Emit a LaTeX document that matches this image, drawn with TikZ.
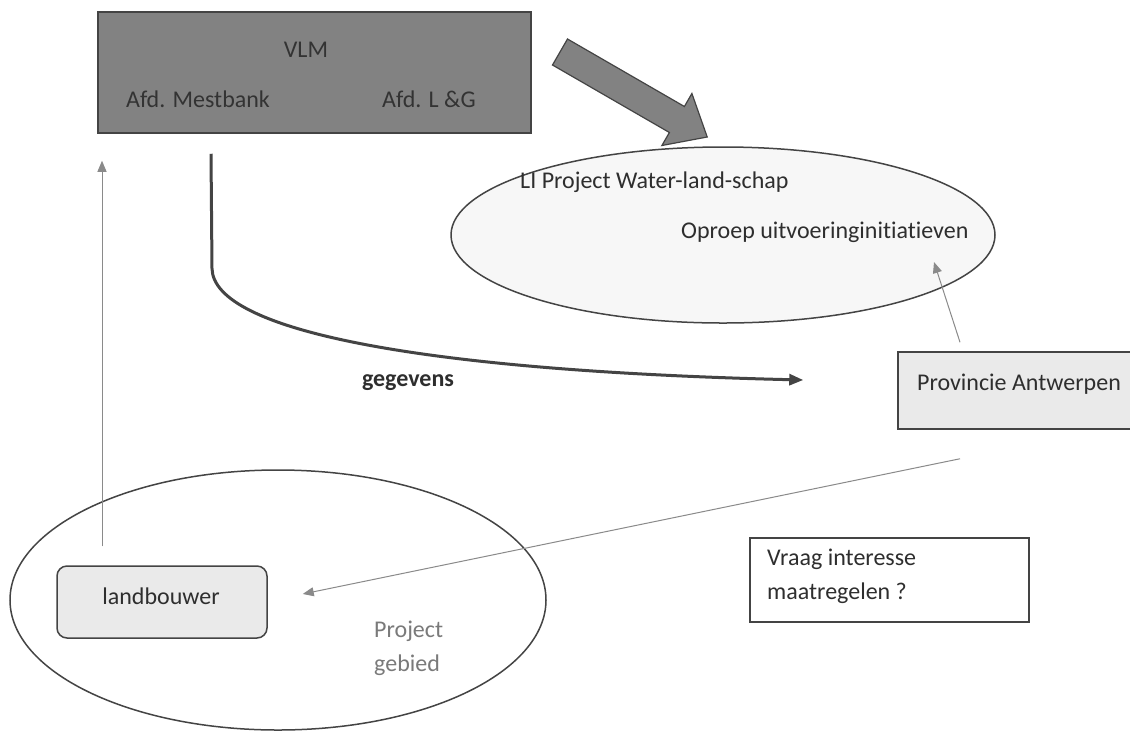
\documentclass[tikz,border=0pt]{standalone}
\usepackage{fontspec}
\setmainfont{Carlito}[Ligatures=NoCommon]
\usetikzlibrary{shapes.geometric,arrows.meta,calc}
\definecolor{vlmfill}{HTML}{828282}
\definecolor{vlmtext}{HTML}{333333}
\definecolor{linegray}{HTML}{444444}
\definecolor{thingray}{HTML}{8A8A8A}
\definecolor{lightbox}{HTML}{EAEAEA}
\definecolor{ellfill}{HTML}{F7F7F7}
\definecolor{txt}{HTML}{2E2E2E}
\definecolor{softtxt}{HTML}{7A7A7A}
\tikzset{
  base/.style={font=\fontsize{24}{29}\selectfont, text=txt},
  vlmbox/.style={draw=linegray, line width=1.5pt, fill=vlmfill, rectangle},
  vlmlabel/.style={base, text=vlmtext, inner sep=0pt},
  blockarrow/.style={draw=linegray, line width=1.2pt, fill=vlmfill, line join=miter},
  topell/.style={draw=linegray, line width=1.5pt, fill=ellfill, ellipse, inner sep=0pt},
  botell/.style={draw=linegray, line width=1.5pt, ellipse, inner sep=0pt},
  provbox/.style={draw=linegray, line width=1.5pt, fill=lightbox, rectangle},
  farmbox/.style={draw=linegray, line width=1.5pt, fill=lightbox, rectangle, rounded corners=10pt},
  askbox/.style={draw=linegray, line width=1.2pt, rectangle},
  plain/.style={base, inner sep=0pt},
  thinarrow/.style={draw=thingray, line width=1pt, -{Triangle[length=11pt,width=9pt]}},
  thickarrow/.style={draw=linegray, line width=3pt, -{Triangle[length=14pt,width=11pt]}},
}
\begin{document}
\begin{tikzpicture}[x=1pt,y=-1pt]
\useasboundingbox (0,0) rectangle (1130,732);
\fill[white] (0,0) rectangle (1130,732);

% VLM block
\node[vlmbox, minimum width=433pt, minimum height=121pt] (vlm) at (314.5,72.5) {};
\node[vlmlabel] (vlmt) at (306,50) {VLM};
\node[vlmlabel] (mest) at (198,99) {Afd. Mestbank};
\node[vlmlabel] (lg) at (429,99) {Afd. L \&G};

% big block arrow
\draw[blockarrow] (567.5,39) -- (684.4,106.5) -- (691.9,93.5) -- (707.2,137)
  -- (661.9,145.5) -- (669.4,132.5) -- (552.5,65) -- cycle;

% top ellipse
\node[topell, minimum width=544pt, minimum height=176pt] (li) at (723,235) {};
\node[plain, anchor=west] (lit) at (520,182) {LI Project Water-land-schap};
\node[plain, anchor=west] (opr) at (681,232) {Oproep uitvoeringinitiatieven};

% Provincie box
\node[provbox, minimum width=242pt, minimum height=77pt] (prov) at (1019,390.5) {};
\node[plain] (provt) at (1019,384) {Provincie Antwerpen};

% bottom ellipse
\node[botell, minimum width=536pt, minimum height=260pt] (proj) at (278,600) {};
\node[farmbox, minimum width=210pt, minimum height=72pt] (land) at (162,602) {};
\node[plain] (landt) at (161,596) {landbouwer};
\node[plain, anchor=west, align=left, text=softtxt, font=\fontsize{24}{34}\selectfont] (geb) at (374,648) {Project\\gebied};

% Vraag box
\node[askbox, minimum width=279pt, minimum height=84pt] (vraag) at (889.5,580) {};
\node[plain, anchor=west, align=left, font=\fontsize{24}{34}\selectfont] (vraagt) at (767,576) {Vraag interesse\\maatregelen ?};

% gegevens label
\node[plain, font=\bfseries\fontsize{24}{29}\selectfont] (geg) at (408,383) {gegevens};

% connectors
\draw[thickarrow] ($(vlm.south)+(-103.5,20)$) -- ($(vlm.south)+(-102.5,135)$)
  .. controls ($(vlm.south)+(-100.5,197)$) and ($(vlm.south)+(105.5,237)$) .. ($(prov.west)+(-94,-10.5)$);
\draw[thinarrow] ($(prov.north)+(-59,-9)$) -- ($(li.center)+(211,27)$);
\draw[thinarrow] ($(prov.south)+(-59,29)$) -- ($(land.east)+(35,-8)$);
\draw[thinarrow] ($(land.north)+(-60,-19)$) -- ($(vlm.south)+(-212.5,27)$);
\end{tikzpicture}
\end{document}
